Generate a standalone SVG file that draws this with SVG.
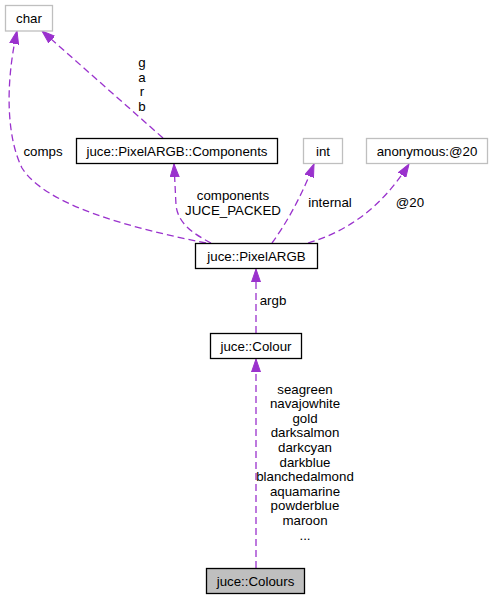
<svg xmlns="http://www.w3.org/2000/svg" width="493" height="600" viewBox="0 0 493 600">
<style>
text{font-family:"Liberation Sans",Arial,sans-serif;font-size:13.3px;fill:#000;text-anchor:middle}
.box{fill:#fff;stroke:#000;stroke-width:1.3}
.ext{fill:#fff;stroke:#bfbfbf;stroke-width:1.3}
.cur{fill:#bfbfbf;stroke:#000;stroke-width:1.3}
.e{fill:none;stroke:#9a32cd;stroke-width:1.3;stroke-dasharray:7,4;marker-end:url(#ah)}
</style>
<defs>
<marker id="ah" markerUnits="userSpaceOnUse" markerWidth="14" markerHeight="10" refX="13" refY="5" orient="auto">
<path d="M0,0.5 L13,5 L0,9.5 z" fill="#9a32cd" stroke="#9a32cd" stroke-width="1"/>
</marker>
</defs>
<rect width="493" height="600" fill="#fff"/>
<g id="connectors">
<path class="e" d="M256,568 L256,359"/>
<path class="e" d="M256,333 L256,269"/>
<path class="e" d="M211,243 C196,235 178,225 176,205 L174,164"/>
<path class="e" d="M272,243 C285,225 300,200 314,164"/>
<path class="e" d="M308,243 C345,232 380,210 409,164"/>
<path class="e" d="M206,243 C130,228 45,205 22,168 C8,140 4,90 17,31"/>
<path class="e" d="M163,138 L42,31"/>
<text x="142" y="67">g</text>
<text x="142" y="81.5">a</text>
<text x="142" y="96">r</text>
<text x="142" y="110.5">b</text>
<text x="43" y="156">comps</text>
<text x="233" y="200">components</text>
<text x="233" y="215">JUCE_PACKED</text>
<text x="330" y="207">internal</text>
<text x="410" y="207">@20</text>
<text x="273" y="305">argb</text>
<text x="305" y="393.5">seagreen</text>
<text x="305" y="408.1">navajowhite</text>
<text x="305" y="422.7">gold</text>
<text x="305" y="437.3">darksalmon</text>
<text x="305" y="451.9">darkcyan</text>
<text x="305" y="466.5">darkblue</text>
<text x="305" y="481.1">blanchedalmond</text>
<text x="305" y="495.7">aquamarine</text>
<text x="305" y="510.3">powderblue</text>
<text x="305" y="524.9">maroon</text>
<text x="305" y="539.5">...</text>
</g>
<g id="char"><rect class="ext" x="5.5" y="5.5" width="47" height="25.5"/><text x="29" y="23">char</text></g>
<g id="components"><rect class="box" x="76.5" y="138.5" width="201" height="25"/><text x="177" y="155.7">juce::PixelARGB::Components</text></g>
<g id="int"><rect class="ext" x="303.5" y="138.5" width="39" height="25"/><text x="323" y="155.7">int</text></g>
<g id="anonymous"><rect class="ext" x="366.5" y="138.5" width="121" height="25"/><text x="427" y="155.7">anonymous:@20</text></g>
<g id="pixelargb"><rect class="box" x="195.5" y="243.5" width="122" height="25"/><text x="256.5" y="260.7">juce::PixelARGB</text></g>
<g id="colour"><rect class="box" x="210.5" y="333.5" width="91" height="25"/><text x="256" y="350.7">juce::Colour</text></g>
<g id="colours"><rect class="cur" x="206.5" y="568.5" width="98" height="25"/><text x="255.5" y="585.7">juce::Colours</text></g>
</svg>
